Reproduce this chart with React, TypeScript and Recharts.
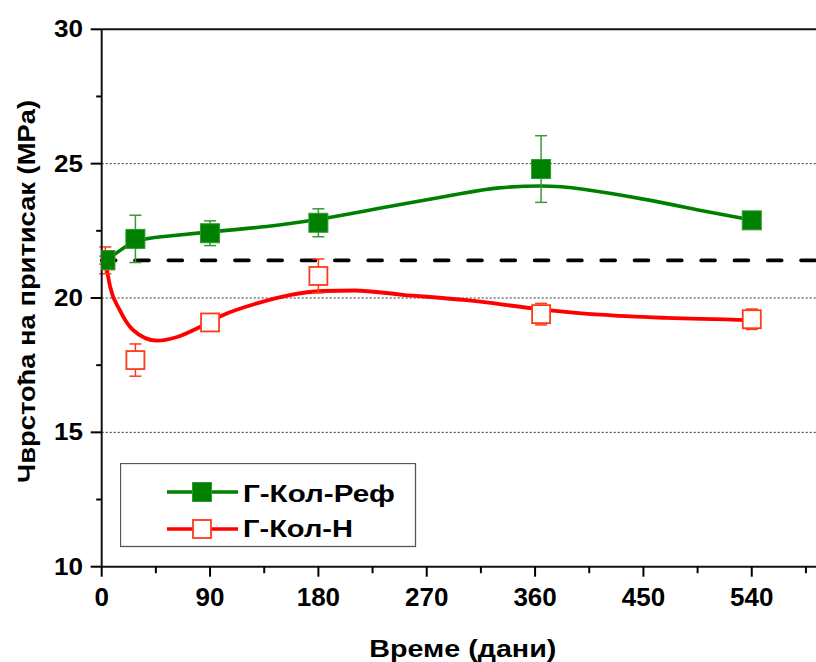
import React from 'react';
import {
  ComposedChart,
  Line,
  Scatter,
  ErrorBar,
  XAxis,
  YAxis,
  ReferenceLine,
  Legend,
  Label,
} from 'recharts';

// ---- Data ----
const seriesNames = ['Г-Кол-Реф', 'Г-Кол-Н'];

const refDays = [3, 28, 90, 180, 365, 540];
const refValues = [21.41, 22.2, 22.41, 22.8, 24.8, 22.89];
const refErrors = [0.15, 0.88, 0.46, 0.52, 1.24, 0.12];

const nDays = [3, 28, 90, 180, 365, 540];
const nValues = [21.4, 17.69, 19.09, 20.82, 19.4, 19.21];
const nErrors = [0.5, 0.6, 0.25, 0.63, 0.4, 0.38];

const refFitDays = [3, 10, 28, 54, 90, 137, 180, 220, 248, 300, 330, 365, 400, 450, 500, 540];
const refFitValues = [21.41, 21.6, 22.1, 22.3, 22.46, 22.66, 22.93, 23.25, 23.48, 23.9, 24.1, 24.17, 24.05, 23.68, 23.24, 22.9];

const nFitDays = [3, 7, 15, 26, 46, 62, 82, 101, 129, 156, 184, 210, 250, 303, 365, 414, 469, 540];
const nFitValues = [21.4, 20.42, 19.55, 18.81, 18.41, 18.54, 18.93, 19.37, 19.8, 20.11, 20.26, 20.28, 20.12, 19.92, 19.58, 19.38, 19.26, 19.18];

const baselineValue = 21.4;
const gridValues = [15, 20, 25];
const xTicks = [0, 45, 90, 135, 180, 225, 270, 315, 360, 405, 450, 495, 540, 585];
const yTicks = [10, 12.5, 15, 17.5, 20, 22.5, 25, 27.5, 30];

const xTitle = 'Време (дани)';
const yTitle = 'Чврстоћа на притисак (MPa)';

// ---- Derived tables ----
const refPts = refDays.map((d, i) => ({ x: d, y: refValues[i], err: refErrors[i] }));
const nPts = nDays.map((d, i) => ({ x: d, y: nValues[i], err: nErrors[i] }));
const refFit = refFitDays.map((d, i) => ({ x: d, y: refFitValues[i] }));
const nFit = nFitDays.map((d, i) => ({ x: d, y: nFitValues[i] }));

const FONT = '"Liberation Sans", Arial, sans-serif';
const GREEN = '#008000';
const RED = '#ff0000';

const XTick = (props: any) => {
  const { x, y, payload } = props;
  const major = payload.value % 90 === 0;
  return (
    <g>
      <line x1={x} x2={x} y1={y} y2={y + (major ? 10 : 6.5)} stroke="#000" strokeWidth={2} />
      {major && (
        <text x={x} y={y + 39.3} textAnchor="middle" fontFamily={FONT} fontWeight="bold" fontSize={26} fill="#000">
          {payload.value}
        </text>
      )}
    </g>
  );
};

const YTick = (props: any) => {
  const { x, y, payload } = props;
  const major = payload.value % 5 === 0;
  return (
    <g>
      <line x1={x - (major ? 11 : 5.5)} x2={x} y1={y} y2={y} stroke="#000" strokeWidth={2} />
      {major && (
        <text
          x={x - 18.7}
          y={y + 8}
          textAnchor="end"
          fontFamily={FONT}
          fontWeight="bold"
          fontSize={24}
          fill="#000"
          textLength={29}
          lengthAdjust="spacingAndGlyphs"
        >
          {payload.value}
        </text>
      )}
    </g>
  );
};

const GreenSquare = (props: any) => {
  const { cx, cy } = props;
  if (cx == null || cy == null) return null;
  return <rect x={cx - 9.5} y={cy - 9.5} width={19} height={19} fill={GREEN} stroke="#2f9a2f" strokeWidth={1} />;
};

const RedSquare = (props: any) => {
  const { cx, cy } = props;
  if (cx == null || cy == null) return null;
  return <rect x={cx - 9} y={cy - 9} width={18} height={18} fill="#fff" stroke="#ff3a1a" strokeWidth={1.8} />;
};

const XTitle = (props: any) => {
  const vb = props.viewBox || { x: 101.7, y: 566.7, width: 722.3, height: 60 };
  return (
    <text
      x={vb.x + vb.width / 2}
      y={vb.y + 90}
      textAnchor="middle"
      fontFamily={FONT}
      fontWeight="bold"
      fontSize={24}
      fill="#000"
      textLength={187}
      lengthAdjust="spacingAndGlyphs"
    >
      {xTitle}
    </text>
  );
};

const YTitle = () => (
  <text
    x={35}
    y={291.5}
    transform="rotate(-90 35 291.5)"
    textAnchor="middle"
    fontFamily={FONT}
    fontWeight="bold"
    fontSize={24}
    fill="#000"
    textLength={383}
    lengthAdjust="spacingAndGlyphs"
  >
    {yTitle}
  </text>
);

const LegendBox = () => (
  <svg width={297} height={85} style={{ display: 'block' }}>
    <rect x={0.5} y={0.5} width={295} height={83} fill="#fff" stroke="#4d5d4d" strokeWidth={1.3} />
    <line x1={47} x2={118} y1={29} y2={29} stroke={GREEN} strokeWidth={3.5} />
    <rect x={72.5} y={19.5} width={19} height={19} fill={GREEN} stroke="#2f9a2f" strokeWidth={1} />
    <text
      x={123}
      y={39}
      fontFamily={FONT}
      fontWeight="bold"
      fontSize={24}
      fill="#000"
      textLength={152}
      lengthAdjust="spacingAndGlyphs"
    >
      {seriesNames[0]}
    </text>
    <line x1={47} x2={118} y1={66} y2={66} stroke={RED} strokeWidth={3.5} />
    <rect x={73} y={57} width={18} height={18} fill="#fff" stroke="#ff3a1a" strokeWidth={1.8} />
    <text
      x={123}
      y={74}
      fontFamily={FONT}
      fontWeight="bold"
      fontSize={24}
      fill="#000"
      textLength={110}
      lengthAdjust="spacingAndGlyphs"
    >
      {seriesNames[1]}
    </text>
  </svg>
);

export default function App() {
  return (
    <div style={{ position: 'absolute', left: 0, top: 0, width: 816, height: 662, overflow: 'hidden', background: '#fff' }}>
      <ComposedChart width={824} height={662} margin={{ top: 29.3, right: 0, bottom: 35.3, left: 41.7 }}>
        <XAxis
          type="number"
          dataKey="x"
          domain={[0, 600]}
          ticks={xTicks}
          interval={0}
          tick={<XTick />}
          tickLine={false}
          tickSize={0}
          tickMargin={0}
          axisLine={{ stroke: '#111', strokeWidth: 2 }}
          height={60}
          allowDataOverflow
        >
          <Label content={<XTitle />} />
        </XAxis>
        <YAxis
          type="number"
          dataKey="y"
          domain={[10, 30]}
          ticks={yTicks}
          interval={0}
          tick={<YTick />}
          tickLine={false}
          tickSize={0}
          tickMargin={0}
          axisLine={{ stroke: '#111', strokeWidth: 2 }}
          width={60}
          allowDataOverflow
        >
          <Label content={<YTitle />} />
        </YAxis>
        {gridValues.map((v) => (
          <ReferenceLine key={v} y={v} stroke="#333" strokeWidth={1} strokeDasharray="2 2" />
        ))}
        <ReferenceLine y={30} stroke="#111" strokeWidth={2} />
        <ReferenceLine
          y={baselineValue}
          stroke="#000"
          strokeWidth={3.6}
          strokeDasharray="14 19.3"
          strokeLinecap="round"
        />
        <Line
          data={nFit}
          dataKey="y"
          type="monotone"
          stroke={RED}
          strokeWidth={3.8}
          dot={false}
          activeDot={false}
          isAnimationActive={false}
          legendType="none"
        />
        <Line
          data={refFit}
          dataKey="y"
          type="natural"
          stroke={GREEN}
          strokeWidth={3.6}
          dot={false}
          activeDot={false}
          isAnimationActive={false}
          legendType="none"
        />
        <Scatter data={nPts} dataKey="y" name={seriesNames[1]} shape={<RedSquare />} isAnimationActive={false}>
          <ErrorBar dataKey="err" direction="y" width={6} stroke="#ff3a1a" strokeWidth={1.5} />
        </Scatter>
        <Scatter data={refPts} dataKey="y" name={seriesNames[0]} shape={<GreenSquare />} isAnimationActive={false}>
          <ErrorBar dataKey="err" direction="y" width={6} stroke="#3a9a3a" strokeWidth={1.5} />
        </Scatter>
        <Legend
          layout="vertical"
          align="center"
          verticalAlign="middle"
          content={<LegendBox />}
          wrapperStyle={{ left: 120, top: 463, width: 297, height: 85 }}
        />
      </ComposedChart>
    </div>
  );
}
